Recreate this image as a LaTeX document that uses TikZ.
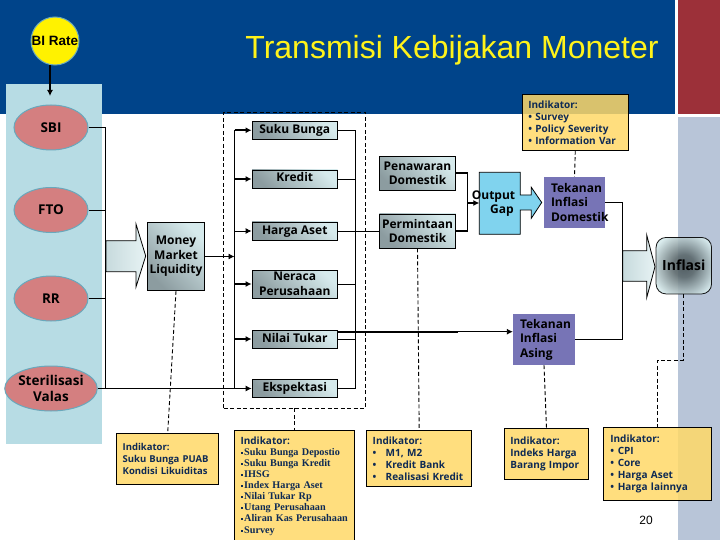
\documentclass[tikz,border=0pt]{standalone}
\usepackage{fontspec}
\usetikzlibrary{positioning, shapes.geometric, arrows.meta}
\setmainfont{Liberation Sans}
\newfontfamily\boxfont{Open Sans}
\newfontfamily\indserif{Liberation Serif}
\newcommand{\sqmark}{\rule[2pt]{2pt}{2pt}\,}
\newcommand{\indline}[2]{\makebox[#1][l]{\textbullet}#2}

\definecolor{headerblue}{RGB}{0, 68, 138}
\definecolor{headerred}{RGB}{156, 48, 57}
\definecolor{sidegray}{RGB}{184, 197, 216}
\definecolor{policypanel}{RGB}{183, 220, 228}
\definecolor{policyrose}{RGB}{212, 127, 128}
\definecolor{policyedge}{RGB}{105, 168, 188}
\definecolor{boxdark}{RGB}{140, 156, 160}
\definecolor{boxlight}{RGB}{214, 234, 236}
\definecolor{indyellow}{RGB}{255, 217, 104}
\definecolor{indtext}{RGB}{14, 42, 84}
\definecolor{pressure}{RGB}{119, 116, 182}
\definecolor{gapblue}{RGB}{128, 211, 238}
\definecolor{glowdark}{RGB}{70, 82, 86}

\pgfdeclareradialshading{inflasiglow}{\pgfpoint{0bp}{0bp}}{color(0bp)=(glowdark); color(10bp)=(glowdark!85!boxlight); color(30bp)=(boxlight); color(50bp)=(boxlight)}

\tikzstyle{policy_rate}=[circle, draw=policyedge, line width=1pt, fill=yellow, inner sep=0pt, minimum size=48pt,
    font=\fontsize{13.5}{15}\selectfont\bfseries]
\tikzstyle{policy_tool}=[ellipse, draw=policyedge, line width=1pt, fill=policyrose, inner sep=0pt,
    minimum width=74pt, minimum height=45pt, align=center, font=\boxfont\bfseries\fontsize{13.5}{16.5}\selectfont]
\tikzstyle{channel_box}=[rectangle, draw=black, line width=0.8pt, top color=boxlight, bottom color=boxdark, shading angle=-45,
    inner sep=0pt, align=center, font=\boxfont\bfseries\fontsize{12}{14.5}\selectfont]
\tikzstyle{channel_line}=[channel_box, minimum width=85.5pt, minimum height=18pt, text height=8.5pt, text depth=2.5pt]
\tikzstyle{indicator_box}=[rectangle, draw=black, line width=0.8pt, fill=indyellow, fill opacity=0.85, text opacity=1,
    inner sep=0pt, align=left, text=indtext, font=\boxfont\bfseries\fontsize{10}{12}\selectfont]
\tikzstyle{pressure_box}=[rectangle, fill=pressure, inner sep=0pt]
\tikzstyle{pressure_label}=[inner sep=0pt, align=left, font=\boxfont\bfseries\fontsize{12}{14.5}\selectfont]
\tikzstyle{block_arrow}=[draw=black, line width=0.8pt, left color=boxlight!80!boxdark, right color=boxlight!60!white]
\tikzstyle{link}=[line width=0.9pt]
\tikzstyle{heavy_link}=[line width=1.7pt]
\tikzstyle{dash_link}=[line width=0.9pt, dashed, dash pattern=on 4pt off 2.5pt]
\tikzstyle{tip_link}=[-{Latex[length=6pt,width=6pt]}]

\begin{document}
\begin{tikzpicture}[x=1pt, y=-1pt]
  \useasboundingbox (0,0) rectangle (720,540);
  \clip (0,0) rectangle (720,540);

  % Page background
  \fill[white] (0,0) rectangle (720,540);
  \fill[headerblue] (0,0) rectangle (675,114);
  \fill[headerred] (678,0) rectangle (720,114);
  \fill[sidegray] (678,117) rectangle (720,540);
  \fill[policypanel] (6,84) rectangle (102,443.5);

  \node[text=yellow!90!white, font=\fontsize{32}{36}\selectfont] (title) at (452,50) {Transmisi Kebijakan Moneter};
  \node[font=\fontsize{12}{14}\selectfont] (page_number) at (646,520) {20};

  % Policy instruments
  \node[policy_rate] (bi_rate) at (55,41) {BI Rate};
  \node[policy_tool] (sbi) at (51,127.5) {SBI};
  \node[policy_tool] (fto) at (51,210) {FTO};
  \node[policy_tool] (rr) at (51,298.5) {RR};
  \node[policy_tool] (steril) at (51,388.5) {Sterilisasi\\Valas};
  \coordinate (panel_top) at (50,96);
  \draw[heavy_link, tip_link] (bi_rate.south -| panel_top) -- (panel_top);

  % Block arrow into money market liquidity
  \draw[block_arrow] (106,240.7) -- (136,240.7) -- (136,224) -- (145.7,256) -- (136,287) -- (136,271.7) -- (106,271.7) -- cycle;
  \node[channel_box, minimum width=57pt, minimum height=68pt] (money) at (176,256.5) {Money\\Market\\Liquidity};

  % Frame round the channels
  \node[rectangle, draw=black, dash_link, minimum width=142pt, minimum height=295.5pt, inner sep=0pt] (channel_frame) at (294.5,260.25) {};

  % Transmission channels
  \node[channel_line] (suku) at (294.75,130.25) {Suku Bunga};
  \node[channel_line] (kredit) at (294.75,179) {Kredit};
  \node[channel_line] (harga) at (294.75,231) {Harga Aset};
  \node[channel_box, minimum width=85.5pt, minimum height=28pt] (neraca) at (294.75,284) {Neraca\\Perusahaan};
  \node[channel_line] (nilai) at (294.75,339) {Nilai Tukar};
  \node[channel_line] (ekspektasi) at (294.75,388) {Ekspektasi};

  % Demand and supply
  \node[channel_box, minimum width=76.5pt, minimum height=34pt] (penawaran) at (417.5,173.3) {Penawaran\\Domestik};
  \node[channel_box, minimum width=76.5pt, minimum height=34pt] (permintaan) at (417.5,231) {Permintaan\\Domestik};

  % Output gap, drawn as a box with an arrow on it
  \draw[line width=0.8pt, fill=gapblue] (479.3,172.3) -- (520.3,172.3) -- (520.3,195) -- (531.3,195) -- (531.3,187.3) -- (541.7,202.5) -- (531.3,218.3) -- (531.3,210) -- (520.3,210) -- (520.3,234.3) -- (479.3,234.3) -- cycle;
  \coordinate (gap_in) at (479.3,203);
  \coordinate (gap_join) at (467.5,203);

  % Pressures on inflation
  \node[pressure_box, minimum width=61pt, minimum height=51pt] (domestic) at (574.5,202.5) {};
  \node[pressure_label, right=7pt of domestic.west] (domestic_label) {Tekanan\\Inflasi\\Domestik};
  \node[pressure_box, minimum width=62pt, minimum height=51pt] (asing) at (544,339.5) {};
  \node[pressure_label, right=7pt of asing.west] (asing_label) {Tekanan\\Inflasi\\Asing};

  % Final target
  \draw[block_arrow] (622.7,250.7) -- (646.7,250.7) -- (646.7,235) -- (655,266.7) -- (646.7,297.7) -- (646.7,281.3) -- (622.7,281.3) -- cycle;
  \node[rectangle, rounded corners=10pt, draw=black, line width=0.8pt, shading=inflasiglow,
      opacity=0.9, text opacity=1, inner sep=0pt, minimum width=55.5pt, minimum height=56.5pt,
      font=\boxfont\bfseries\fontsize{14}{16}\selectfont] (inflasi) at (683.8,265.7) {Inflasi};

  % Indicators
  \node[indicator_box, minimum height=56pt, text width=94pt, inner xsep=6pt] (ind_survey) at (575.3,122.3)
      {Indikator:\\\indline{7pt}{Survey}\\\indline{7pt}{Policy Severity}\\\indline{7pt}{Information Var}};
  \node[indicator_box, minimum height=51pt, text width=90pt, inner xsep=6pt,
      font=\boxfont\bfseries\fontsize{9.5}{12}\selectfont] (ind_money) at (167.7,458.8)
      {Indikator:\\Suku Bunga PUAB\\Kondisi Likuiditas};
  \node[indicator_box, minimum height=113pt, text width=108pt, inner xsep=6pt] (ind_channel) at (294.5,486.5)
      {\fontsize{10}{11}\selectfont Indikator:\\
       \indserif\bfseries\fontsize{10.2}{11}\selectfont\sqmark Suku Bunga Depostio\\\sqmark Suku Bunga Kredit\\\sqmark IHSG\\\sqmark Index Harga Aset\\\sqmark Nilai Tukar Rp\\\sqmark Utang Perusahaan\\\sqmark Aliran Kas Perusahaan\\\sqmark Survey};
  \node[indicator_box, minimum height=56pt, text width=93pt, inner xsep=6pt] (ind_credit) at (419.2,458.3)
      {Indikator:\\\indline{13pt}{M1, M2}\\\indline{13pt}{Kredit Bank}\\\indline{13pt}{Realisasi Kredit}};
  \node[indicator_box, minimum height=50.6pt, text width=72.4pt, inner xsep=6pt] (ind_import) at (546.5,454)
      {Indikator:\\Indeks Harga\\Barang Impor};
  \node[indicator_box, minimum height=73pt, text width=94.4pt, inner xsep=7pt] (ind_cpi) at (657.5,463.8)
      {Indikator:\\\indline{7.5pt}{CPI}\\\indline{7.5pt}{Core}\\\indline{7.5pt}{Harga Aset}\\\indline{7.5pt}{Harga lainnya}};

  % Links from the instruments to the liquidity arrow
  \coordinate (policy_bus) at (105.5,256);
  \draw[link] (sbi.east) -| (policy_bus) |- (steril.east);
  \draw[link] (fto.east) -- (fto.east -| policy_bus);
  \draw[link] (rr.east) -- (rr.east -| policy_bus);
  \draw[link, tip_link] (steril.east) -- (steril.east -| ekspektasi.west);

  % Bus into the channels
  \coordinate (channel_in) at (234.5,256.5);
  \draw[link, tip_link] (money.east) -- (channel_in);
  \draw[link] (channel_in |- suku.west) -- (channel_in |- ekspektasi.west);
  \foreach \channel/\weight in {suku/1.7pt, kredit/1.7pt, harga/0.9pt, neraca/1.7pt, nilai/1.7pt} {
      \draw[line width=\weight, tip_link] (channel_in |- \channel.west) -- (\channel.west);
  }

  % Bus out of the channels
  \coordinate (channel_out) at (355.5,260);
  \draw[link] (suku.east) -| (channel_out) |- (ekspektasi.east);
  \foreach \channel in {kredit, neraca, nilai} {
      \draw[link] (\channel.east) -- (\channel.east -| channel_out);
  }
  \draw[link] (harga.east) -- (permintaan.west);

  % Exchange rate goes straight to the foreign pressure
  \coordinate (nilai_out) at (337.5,331.7);
  \coordinate (nilai_heavy_end) at (458,331.7);
  \draw[heavy_link] (nilai_out) -- (nilai_heavy_end);
  \draw[link, tip_link] (nilai_heavy_end) -- (asing.west |- nilai_heavy_end);

  % Demand and supply into the gap
  \draw[heavy_link] (penawaran.east) -| (gap_join);
  \draw[heavy_link] (permintaan.east) -| (gap_join);
  \draw[heavy_link, tip_link] (gap_join) -- (gap_in);
  \node[inner sep=0pt, align=center, font=\boxfont\bfseries\fontsize{12}{14.5}\selectfont] (gap_label_top) at (493.5,197) {Output};
  \node[inner sep=0pt, align=center, font=\boxfont\bfseries\fontsize{12}{14.5}\selectfont] (gap_label_bottom) at (502,211) {Gap};

  % Both pressures into the inflation arrow
  \coordinate (inflasi_bus) at (622.5,266);
  \draw[link] (domestic.east) -| (inflasi_bus) |- (asing.east);

  % Dashed links to the indicators
  \coordinate (inflasi_turn) at (657.5,360);
  \draw[dash_link] (ind_survey.south) -- (domestic.north);
  \draw[dash_link] (money.south) -- (ind_money.north);
  \draw[dash_link] (channel_frame.south) -- (ind_channel.north);
  \draw[dash_link] (permintaan.south) -- (ind_credit.north);
  \draw[dash_link] (asing.south) -- (ind_import.north);
  \draw[dash_link] (inflasi.south) |- (inflasi_turn) -- (ind_cpi.north);
\end{tikzpicture}
\end{document}
